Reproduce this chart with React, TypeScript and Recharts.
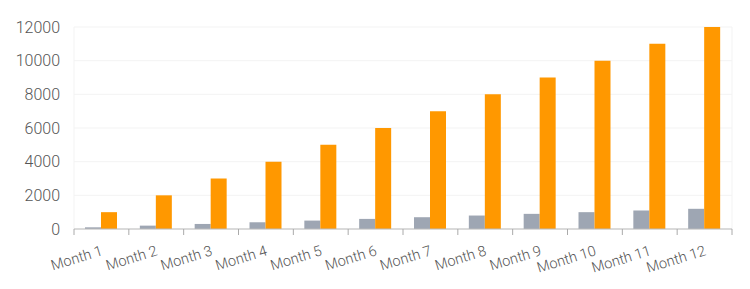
import React from "react";
import { BarChart, Bar, XAxis, YAxis, CartesianGrid } from "recharts";

const months = ["Month 1", "Month 2", "Month 3", "Month 4", "Month 5", "Month 6", "Month 7", "Month 8", "Month 9", "Month 10", "Month 11", "Month 12"];
const grayValues = [100, 200, 300, 400, 500, 600, 700, 800, 900, 1000, 1100, 1200];
const orangeValues = [1000, 2000, 3000, 4000, 5000, 6000, 7000, 8000, 9000, 10000, 11000, 12000];
const yTicks = [0, 2000, 4000, 6000, 8000, 10000, 12000];

const data = months.map((m, i) => ({ name: m, a: grayValues[i], b: orangeValues[i] }));

const W = 750;
const H = 289;
const LEFT = 74;
const RIGHT = 18;
const HALF_BAND = (W - LEFT - RIGHT) / months.length / 2;

const XTick = (props: any) => {
  const { x, y, payload, index } = props;
  const tx = x + 2;
  const ty = y + 18;
  return (
    <g>
      <line x1={x - HALF_BAND} y1={y - 8} x2={x - HALF_BAND} y2={y - 2} stroke="#aaa" />
      {index === months.length - 1 && (
        <line x1={x + HALF_BAND} y1={y - 8} x2={x + HALF_BAND} y2={y - 2} stroke="#aaa" />
      )}
      <text
        x={tx}
        y={ty}
        textAnchor="end"
        transform={`rotate(-17, ${tx}, ${ty})`}
        fill="#555"
        fontSize={14.5}
        fontFamily="Roboto"
        fontWeight={300}
      >
        {payload.value}
      </text>
    </g>
  );
};

export default function App() {
  return (
    <div style={{ position: "absolute", left: 0, top: 0, width: W, height: H, background: "#fff" }}>
      <BarChart
        width={W}
        height={H}
        data={data}
        margin={{ top: 27, right: RIGHT, bottom: 10, left: 0 }}
        barGap={0}
        barSize={16}
      >
        <CartesianGrid stroke="#f3f3f3" vertical={false} />
        <CartesianGrid stroke="#f3f3f3" horizontal={false} verticalPoints={[LEFT, W - RIGHT]} />
        <XAxis
          dataKey="name"
          interval={0}
          tickLine={false}
          axisLine={{ stroke: "#bbb" }}
          tick={<XTick />}
          height={50}
        />
        <YAxis
          width={LEFT}
          domain={[0, 12000]}
          ticks={yTicks}
          axisLine={false}
          tickLine={false}
          tickMargin={8}
          tick={{ fill: "#555", fontSize: 16, fontFamily: "Roboto", fontWeight: 300 }}
        />
        <Bar dataKey="a" fill="#9ea6b3" isAnimationActive={false} />
        <Bar dataKey="b" fill="#ff9800" isAnimationActive={false} />
      </BarChart>
    </div>
  );
}
